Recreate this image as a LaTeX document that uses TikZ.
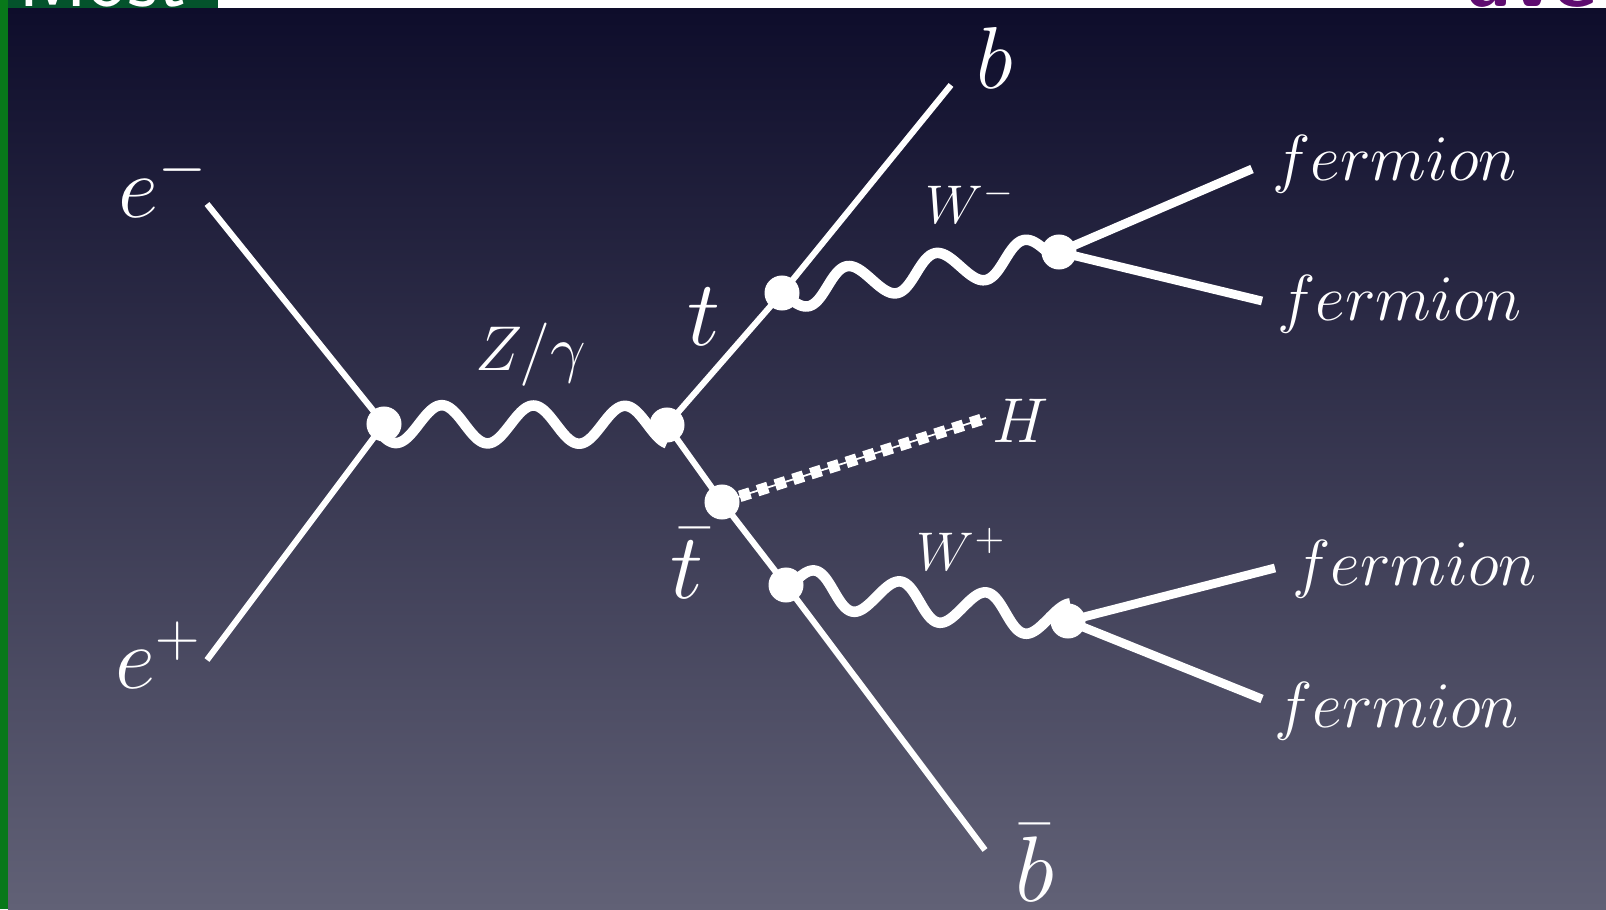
\documentclass[tikz,border=0pt]{standalone}
\usepackage{fix-cm}
\usepackage{xcolor}
\usepackage{tikz}
\usetikzlibrary{positioning,calc}
\definecolor{skytop}{HTML}{0E0D2B}
\definecolor{skybot}{HTML}{616176}
\definecolor{slidegreen}{HTML}{08781A}
\definecolor{titlegreen}{HTML}{04532C}
\definecolor{titlepurple}{HTML}{5E0C70}
% wave between two points: from, to, periods, phase, amplitude (cm)
\newcommand{\bosonwave}[5]{%
  \path let \p1=($(#2)-(#1)$) in \pgfextra{%
    \pgfmathsetmacro{\wlen}{veclen(\x1,\y1)}\xdef\wlen{\wlen}%
    \pgfmathsetmacro{\wang}{atan2(\y1,\x1)}\xdef\wang{\wang}};
  \begin{scope}[shift={(#1)}, rotate=\wang]
    \draw[boson] plot[domain=0:1, samples=160, smooth, variable=\t]
      ({\t*\wlen pt}, {#5*sin(360*#3*\t+#4)*1cm});
  \end{scope}
}

\begin{document}
\begin{tikzpicture}[
  x=0.01cm, y=-0.01cm,
  fline/.style={draw=white, line width=1.75pt},
  fpair/.style={draw=white, line width=2.5pt},
  boson/.style={draw=white, line width=3pt},
  scalar/.style={draw=white, line width=3.3pt, dash pattern=on 3.1pt off 2.2pt},
  vtx/.style={circle, fill=white, inner sep=0pt, minimum size=0.35cm},
  lblL/.style={text=white, font=\fontsize{25}{30}\selectfont, inner sep=0pt,
               anchor=base west},
  lblT/.style={lblL, font=\fontsize{26.5}{31}\selectfont},
  lblM/.style={text=white, font=\fontsize{18}{22}\selectfont, inner sep=0pt,
               anchor=base west},
  lblW/.style={lblM, font=\fontsize{15.5}{19}\selectfont},
  lblF/.style={lblM, font=\fontsize{18.5}{22}\selectfont},
  slide/.style={text=white, font=\sffamily\fontsize{24}{24}\selectfont,
                inner sep=0pt, anchor=base west}
]
\useasboundingbox (0,0) rectangle (1606,909);

% ==== slide background and the cut-off title bar
\shade[top color=skytop, bottom color=skybot] (8,8) rectangle (1606,909);
\fill[white] (8,0) rectangle (1606,8);
\fill[slidegreen] (0,0) rectangle (8,909);
\fill[titlegreen] (8,0) rectangle (218,8);
\begin{scope}
  \clip (8,0) rectangle (1606,8);
  \node[slide] (ttlL) at (18,6) {Most};
  \node[slide, text=titlepurple, font=\sffamily\bfseries\fontsize{24}{24}\selectfont]
       (ttlR) at (1466,6) {ave};
\end{scope}

% ==== vertices and free ends (slide pixels)
\coordinate (vee) at (384,424);   % annihilation
\coordinate (vz)  at (667,425);   % Z/gamma -> t tbar
\coordinate (vt)  at (782,293);   % t -> W- b
\coordinate (vh)  at (722,502);   % Higgs off the tbar
\coordinate (vtb) at (786,585);   % tbar -> W+ bbar
\coordinate (vwm) at (1059,252);
\coordinate (vwp) at (1068,621);

\coordinate (eminus) at (207,204);
\coordinate (eplus)  at (207,660);
\coordinate (bq)     at (951,85);
\coordinate (bbq)    at (985,850);
\coordinate (hend)   at (986,418);
\coordinate (f1) at (1252,169);
\coordinate (f2) at (1262,301);
\coordinate (f3) at (1275,568);
\coordinate (f4) at (1262,699);

% ==== fermion lines
\draw[fline] (eminus) -- (vee) -- (eplus);
\draw[fline] (vz) -- (vt) -- (bq);
\draw[fline] (vz) -- (vh) -- (vtb) -- (bbq);
\foreach \a/\b in {vwm/f1, vwm/f2, vwp/f3, vwp/f4} {
  \draw[fpair] (\a) -- (\b);
}

% ==== bosons
\bosonwave{vee}{vz}{3.09}{-137}{0.19}
\bosonwave{vt}{vwm}{3.125}{-185}{0.17}
\bosonwave{vtb}{vwp}{3.28}{-20}{0.18}
\draw[draw=white, line width=0.5pt] (vh) -- (hend);
\draw[scalar] (vh) -- (hend);

\foreach \p in {vee, vz, vt, vh, vtb, vwm, vwp} {
  \node[vtx] (dot-\p) at (\p) {};
}

% ==== labels
\node[lblL] (lem) at (118,217) {$e^-$};
\node[lblL] (lep) at (115,688) {$e^+$};
\node[lblM] (lz)  at (475,370) {$Z/\gamma$};
\node[lblT] (lt)  at (687,345) {$t$};
\node[lblT] (ltb) at (670,598) {$\bar{t}$};
\node[lblL] (lb)  at (976,88)  {$b$};
\node[lblT] (lbb) at (1015,901) {$\bar{b}$};
\node[lblW] (lwm) at (925,223) {$W^-$};
\node[lblW] (lwp) at (916,570) {$W^+$};
\node[lblM] (lh)  at (992,442) {$H$};
\foreach \x/\y/\i in {1272/180/1, 1277/320/2, 1292/585/3, 1274/727/4} {
  \node[lblF] (lf\i) at (\x,\y) {$fermion$};
}

\end{tikzpicture}
\end{document}
